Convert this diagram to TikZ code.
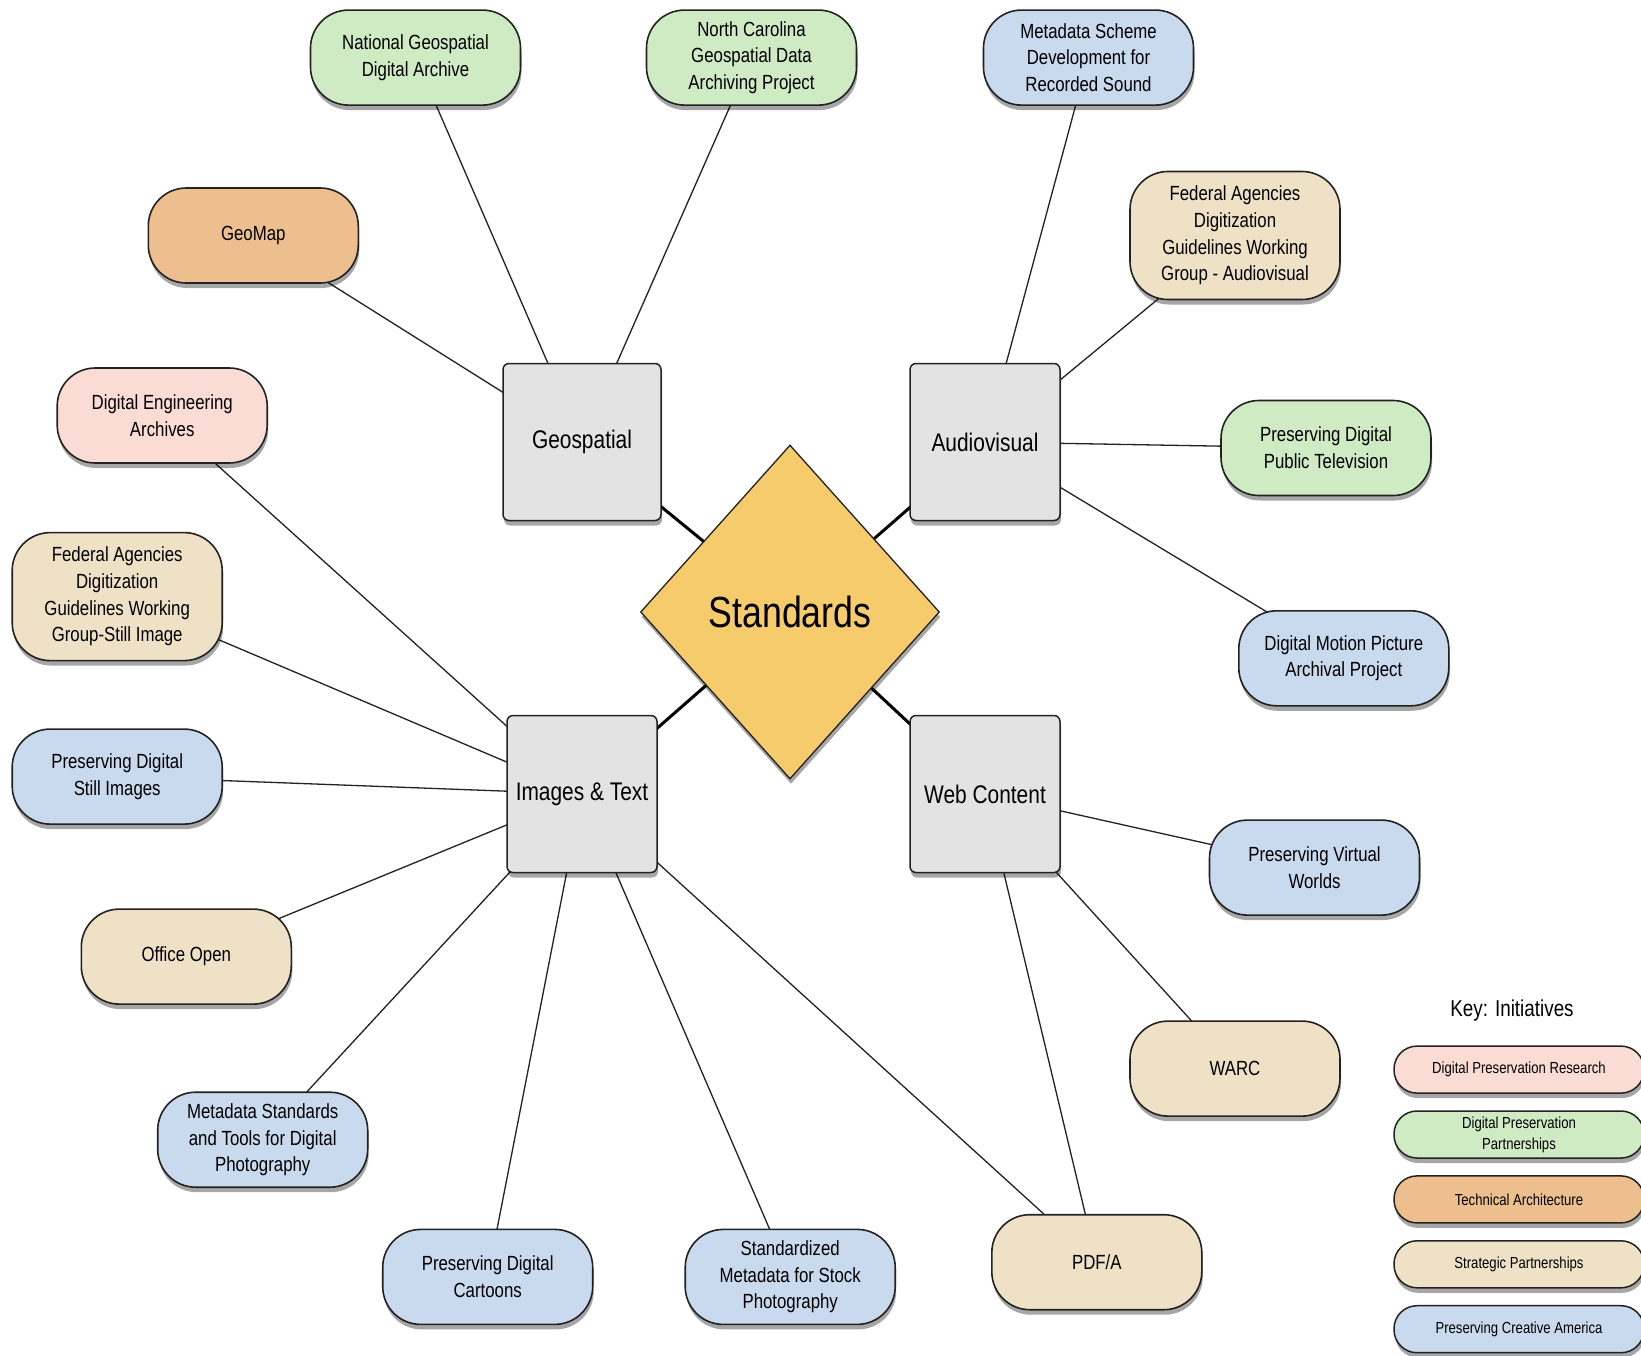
\documentclass[tikz,border=0pt]{standalone}
\usepackage{fontspec}
\setmainfont{Liberation Sans}[FakeStretch=0.82]
\usetikzlibrary{shapes.geometric,shadows,backgrounds}
\definecolor{cpink}{HTML}{FADCD4}
\definecolor{cgreen}{HTML}{CFEBC4}
\definecolor{corange}{HTML}{EDBF8F}
\definecolor{ctan}{HTML}{EFE1C6}
\definecolor{cblue}{HTML}{C9DAEE}
\definecolor{cgray}{HTML}{E3E3E3}
\definecolor{cyellow}{HTML}{F5CB6C}
\definecolor{cline}{HTML}{222222}
\tikzset{
  shade/.style={drop shadow={shadow xshift=1pt,shadow yshift=-5pt,opacity=0.35,fill=black}},
  pill/.style={draw=cline,line width=1.6pt,rounded corners=38pt,minimum width=210pt,minimum height=95pt,
    inner xsep=8pt,inner ysep=10pt,align=center,shade,font=\fontsize{20.5}{26.7}\selectfont},
  catbox/.style={draw=cline,line width=1.5pt,rounded corners=6pt,fill=cgray,minimum width=150pt,minimum height=157pt,
    shade,font=\fontsize{25.5}{30}\selectfont},
  keypill/.style={draw=cline,line width=1.5pt,rounded corners=23pt,minimum width=250pt,minimum height=47pt,
    inner ysep=3pt,align=center,shade,font=\fontsize{16}{21}\selectfont},
  leafedge/.style={draw=cline,line width=1.3pt},
  hubedge/.style={draw=black,line width=3pt},
}
\begin{document}
\begin{tikzpicture}[x=1pt,y=-1pt]
\useasboundingbox (0,0) rectangle (1641,1355);
% hub
\node[diamond,draw=cline,line width=1.3pt,fill=cyellow,minimum width=299pt,minimum height=334pt,inner sep=0pt,shade,
  font=\fontsize{43.5}{48}\selectfont] (std) at (790,612) {Standards};
% categories
\node[catbox,minimum width=158pt] (geo) at (582,442) {Geospatial};
\node[catbox] (av) at (985,442) {Audiovisual};
\node[catbox] (img) at (582,794) {Images \& Text};
\node[catbox] (web) at (985,794) {Web Content};
% leaves
\node[pill,fill=cgreen] (ngda) at (415.5,57.6) {National Geospatial\\Digital Archive};
\node[pill,fill=cgreen] (nc) at (751.5,57.6) {North Carolina\\Geospatial Data\\Archiving Project};
\node[pill,fill=cblue] (mss) at (1088.5,57.6) {Metadata Scheme\\Development for\\Recorded Sound};
\node[pill,fill=corange] (geomap) at (253.3,235.5) {GeoMap};
\node[pill,fill=ctan,minimum height=128pt] (fadav) at (1235,235.5) {Federal Agencies\\Digitization\\Guidelines Working\\Group - Audiovisual};
\node[pill,fill=cpink] (dea) at (162.2,415.5) {Digital Engineering\\Archives};
\node[pill,fill=cgreen] (pdpt) at (1326,448) {Preserving Digital\\Public Television};
\node[pill,fill=ctan,minimum height=128pt] (fadsi) at (117.2,596.6) {Federal Agencies\\Digitization\\Guidelines Working\\Group-Still Image};
\node[pill,fill=cblue] (dmpap) at (1343.8,658.3) {Digital Motion Picture\\Archival Project};
\node[pill,fill=cblue] (pdsi) at (117.2,776.6) {Preserving Digital\\Still Images};
\node[pill,fill=cblue] (pvw) at (1314.5,867.6) {Preserving Virtual\\Worlds};
\node[pill,fill=ctan] (oo) at (186.3,956.6) {Office Open};
\node[pill,fill=ctan] (warc) at (1235,1068.6) {WARC};
\node[pill,fill=cblue] (mstdp) at (262.7,1139.7) {Metadata Standards\\and Tools for Digital\\Photography};
\node[pill,fill=cblue] (pdc) at (487.7,1276.9) {Preserving Digital\\Cartoons};
\node[pill,fill=cblue] (smsp) at (790.2,1276.9) {Standardized\\Metadata for Stock\\Photography};
\node[pill,fill=ctan] (pdfa) at (1096.8,1262.2) {PDF/A};
% key
\node[font=\fontsize{23}{27}\selectfont] (keyt) at (1512,1011) {Key: Initiatives};
\node[keypill,fill=cpink] (k1) at (1519,1069.6) {Digital Preservation Research};
\node[keypill,fill=cgreen] (k2) at (1519,1134.5) {Digital Preservation\\Partnerships};
\node[keypill,fill=corange] (k3) at (1519,1199.4) {Technical Architecture};
\node[keypill,fill=ctan] (k4) at (1519,1264.3) {Strategic Partnerships};
\node[keypill,fill=cblue] (k5) at (1519,1329.2) {Preserving Creative America};
% edges
\begin{scope}[on background layer]
\fill[white] (0,0) rectangle (1641,1355);
\foreach \c in {geo,av,img,web} \draw[hubedge] (std.center) -- (\c.center);
\foreach \l in {ngda,nc,geomap} \draw[leafedge] (geo.center) -- (\l.center);
\foreach \l in {mss,fadav,pdpt,dmpap} \draw[leafedge] (av.center) -- (\l.center);
\foreach \l in {dea,fadsi,pdsi,oo,mstdp,pdc,smsp,pdfa} \draw[leafedge] (img.center) -- (\l.center);
\foreach \l in {pvw,warc,pdfa} \draw[leafedge] (web.center) -- (\l.center);
\end{scope}
\end{tikzpicture}
\end{document}
